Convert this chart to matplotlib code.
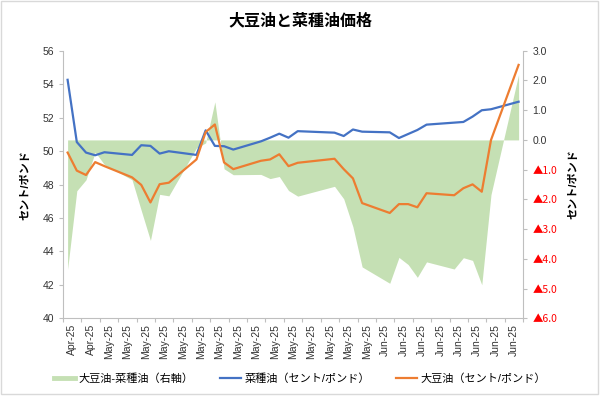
import numpy as np
import pandas as pd
import matplotlib
matplotlib.use('Agg')
import matplotlib.pyplot as plt
import matplotlib.dates as mdates
from matplotlib.lines import Line2D
from matplotlib.patches import Rectangle

plt.rcParams['font.family'] = ['Liberation Sans', 'Noto Sans CJK JP', 'DejaVu Sans']

# trading days (weekends / holidays missing)
dates = ['2025-04-28', '2025-04-29', '2025-04-30', '2025-05-01', '2025-05-02',
         '2025-05-05', '2025-05-06', '2025-05-07', '2025-05-08', '2025-05-09',
         '2025-05-12', '2025-05-13', '2025-05-14', '2025-05-15', '2025-05-16',
         '2025-05-19', '2025-05-20', '2025-05-21', '2025-05-22', '2025-05-23',
         '2025-05-27', '2025-05-28', '2025-05-29', '2025-05-30',
         '2025-06-02', '2025-06-03', '2025-06-04', '2025-06-05', '2025-06-06',
         '2025-06-09', '2025-06-10', '2025-06-11', '2025-06-12', '2025-06-13',
         '2025-06-16']

# 菜種油 (cents/lb)
canola = [54.26, 50.54, 49.91, 49.75, 49.93,
          49.77, 50.35, 50.31, 49.85, 49.99,
          49.77, 51.24, 50.31, 50.29, 50.09,
          50.58, 50.80, 51.04, 50.80, 51.19,
          51.10, 50.90, 51.29, 51.16,
          51.12, 50.78, 51.02, 51.26, 51.58,
          51.70, 51.74, 52.06, 52.44, 52.50,
          52.95]

# 大豆油 (cents/lb)
soy = [49.91, 48.83, 48.57, 49.34, 49.10,
       48.43, 47.98, 46.93, 48.02, 48.11,
       49.50, 51.14, 51.59, 49.32, 48.92,
       49.42, 49.50, 49.81, 49.10, 49.30,
       49.54, 48.92, 48.37, 46.89,
       46.30, 46.83, 46.83, 46.64, 47.48,
       47.36, 47.78, 48.01, 47.57, 50.66,
       55.15]

# 大豆油-菜種油 spread, right axis
spread = np.array(soy) - np.array(canola)

label_dates = pd.date_range('2025-04-28', periods=25, freq='2D')
tick_labels = [d.strftime('%b-%y') for d in label_dates]
left_ticks = np.arange(40, 57, 2)
right_ticks = np.arange(-6, 4, 1)

BLUE = '#4472C4'
ORANGE = '#ED7D31'
GREEN = '#C5E0B4'
GRAY = '#BFBFBF'
TXT = '#333333'

x = mdates.date2num(pd.to_datetime(dates))

fig = plt.figure(figsize=(6, 3.96), dpi=100)
fig.patches.append(Rectangle((0.002, 0.004), 0.995, 0.993, transform=fig.transFigure,
                             fill=False, edgecolor='#D9D9D9', lw=1))

ax = fig.add_axes([0.105, 0.196, 0.767, 0.676])
ax2 = ax.twinx()

ax2.fill_between(x, spread, 0, color=GREEN, lw=0)
ax.plot(x, canola, color=BLUE, lw=1.6)
ax.plot(x, soy, color=ORANGE, lw=1.6)
ax.set_zorder(ax2.get_zorder() + 1)
ax.patch.set_visible(False)

# one slot per calendar day, labels every 2 days between ticks
lo = x[0] - 0.5
hi = x[-1] + 0.5
ax.set_xlim(lo, hi)
ax.set_xticks(np.arange(lo, hi + 0.01, 2))
ax.set_xticklabels([])
ax.set_xticks(mdates.date2num(label_dates) + 0.5, minor=True)
ax.set_xticklabels(tick_labels, minor=True, rotation=90, fontsize=7.5, color=TXT)
ax.tick_params(axis='x', which='minor', length=0, pad=4)
ax.tick_params(axis='x', which='major', length=3, color=GRAY)

ax.set_ylim(40, 56)
ax.set_yticks(left_ticks)
ax.set_yticklabels([str(v) for v in left_ticks], fontsize=7.5, color=TXT)
ax.tick_params(axis='y', length=3, color=GRAY)

ax2.set_ylim(-6, 3)
ax2.set_yticks(right_ticks)
ax2.set_yticklabels([f'{v:.1f}' if v >= 0 else f'▲{-v:.1f}' for v in right_ticks],
                    fontsize=7.5)
for lbl, v in zip(ax2.get_yticklabels(), right_ticks):
    if v < 0:
        lbl.set_color('#FF0000')
        lbl.set_family(['Noto Sans CJK JP', 'DejaVu Sans'])
    else:
        lbl.set_color(TXT)
ax2.tick_params(axis='y', length=3, color=GRAY)

for s in ['top', 'right']:
    ax.spines[s].set_visible(False)
ax2.spines['top'].set_visible(False)
ax2.spines['left'].set_visible(False)
ax2.spines['bottom'].set_visible(False)
for s in ['left', 'bottom']:
    ax.spines[s].set_color(GRAY)
ax2.spines['right'].set_color(GRAY)

fig.text(0.5, 0.948, '大豆油と菜種油価格', ha='center', va='center',
         fontsize=11.5, fontweight='bold')
fig.text(0.042, 0.533, 'セント/ポンド', rotation=90, ha='center', va='center',
         fontsize=8, fontweight='bold')
fig.text(0.955, 0.535, 'セント/ポンド', rotation=90, ha='center', va='center',
         fontsize=8, fontweight='bold')

handles = [Line2D([], [], color=GREEN, lw=3.5),
           Line2D([], [], color=BLUE, lw=1.6),
           Line2D([], [], color=ORANGE, lw=1.6)]
names = ['大豆油-菜種油（右軸）', '菜種油（セント/ポンド）', '大豆油（セント/ポンド）']
fig.legend(handles, names, loc='center', bbox_to_anchor=(0.5, 0.045), ncol=3,
           frameon=False, fontsize=8, handlelength=1.9, handletextpad=0.35,
           columnspacing=2.3)

fig.savefig('out.png', dpi=100)
